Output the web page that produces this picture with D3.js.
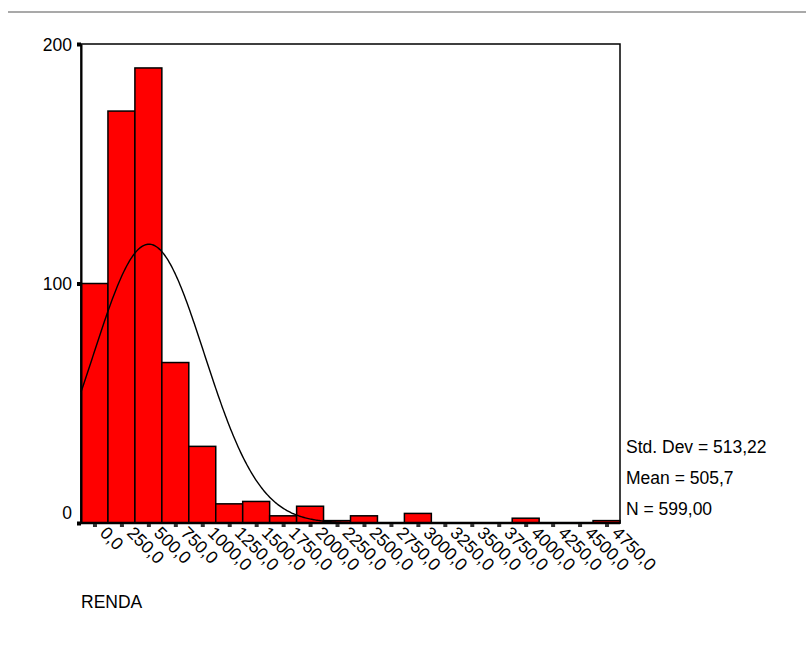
<!DOCTYPE html>
<html>
<head>
<meta charset="utf-8">
<script src="https://cdn.jsdelivr.net/npm/d3@7"></script>
<style>
  body { margin: 0; background: #fff; }
  text { font-family: "Liberation Sans", Arial, sans-serif; fill: #000; }
</style>
</head>
<body>
<div id="chart"></div>
<script>
// histogram of RENDA, bins of 250 labelled by midpoint
const binMids = [0, 250, 500, 750, 1000, 1250, 1500, 1750, 2000, 2250,
                 2500, 2750, 3000, 3250, 3500, 3750, 4000, 4250, 4500, 4750];
const counts = [100, 172, 190, 67, 32, 8, 9, 3, 7, 1,
                3, 0, 4, 0, 0, 0, 2, 0, 0, 1];
const yTicks = [0, 100, 200];
const statLines = ["Std. Dev = 513,22", "Mean = 505,7", "N = 599,00"];
const stdDev = 513.22, mean = 505.7, nTotal = 599, binWidth = 250;

const width = 806, height = 652;
const margin = {left: 81, right: 186, top: 44, bottom: 129};
const fontSize = "17.5px";

const svg = d3.select("#chart").append("svg")
  .attr("width", width)
  .attr("height", height);

// gray rule at the top of the page
svg.append("line")
  .attr("x1", 8).attr("x2", width).attr("y1", 12).attr("y2", 12)
  .attr("stroke", "#8c8c8c").attr("stroke-width", 1.5);

const x = d3.scaleLinear()
  .domain([binMids[0] - binWidth / 2, binMids[binMids.length - 1] + binWidth / 2])
  .range([margin.left, width - margin.right]);

const y = d3.scaleLinear()
  .domain([0, 200])
  .range([height - margin.bottom, margin.top]);

// frame
svg.append("rect")
  .attr("x", x.range()[0]).attr("y", y(200))
  .attr("width", x.range()[1] - x.range()[0])
  .attr("height", y(0) - y(200))
  .attr("fill", "none").attr("stroke", "#000").attr("stroke-width", 1.5);

// bars
svg.selectAll(".bar")
  .data(binMids)
  .enter()
  .append("rect")
    .attr("class", "bar")
    .attr("x", d => x(d - binWidth / 2))
    .attr("y", (d, i) => y(counts[i]))
    .attr("width", d => x(d + binWidth / 2) - x(d - binWidth / 2))
    .attr("height", (d, i) => y(0) - y(counts[i]))
    .attr("fill", "#ff0000")
    .attr("stroke", "#000")
    .attr("stroke-width", 1.5)
    .style("display", (d, i) => counts[i] > 0 ? null : "none");

// fitted normal curve from the reported mean / sd / N
const curvePts = d3.range(x.domain()[0], x.domain()[1] + 1, 10).map(v => {
  const z = (v - mean) / stdDev;
  return [v, nTotal * binWidth / (stdDev * Math.sqrt(2 * Math.PI)) * Math.exp(-0.5 * z * z)];
});
svg.append("path")
  .datum(curvePts)
  .attr("fill", "none")
  .attr("stroke", "#000")
  .attr("stroke-width", 1.4)
  .attr("d", d3.line().x(d => x(d[0])).y(d => y(d[1])));

// bottom axis line (a bit heavier)
svg.append("line")
  .attr("x1", x.range()[0]).attr("x2", x.range()[1])
  .attr("y1", y(0)).attr("y2", y(0))
  .attr("stroke", "#000").attr("stroke-width", 2.5);

// y axis
const yAxis = svg.append("g")
  .attr("transform", `translate(${margin.left},0)`)
  .call(d3.axisLeft(y).tickValues(yTicks).tickSize(0).tickPadding(9));
yAxis.select(".domain").attr("stroke-width", 2);
yAxis.selectAll("text")
  .attr("font-size", fontSize)
  .attr("font-family", "Liberation Sans, Arial, sans-serif")
  .attr("dy", d => d === 0 ? "-0.25em" : "0.35em");
yAxis.selectAll(".tick").append("rect")
  .attr("x", -4).attr("y", -2).attr("width", 4).attr("height", 4)
  .attr("fill", "#000");

// x ticks and rotated labels
const xAxis = svg.append("g")
  .attr("transform", `translate(0,${y(0)})`)
  .call(d3.axisBottom(x).tickValues(binMids).tickSize(0).tickFormat(d => d + ",0"));
xAxis.select(".domain").remove();
xAxis.selectAll(".tick").append("rect")
  .attr("x", -2).attr("y", 1).attr("width", 4).attr("height", 3)
  .attr("fill", "#333");
xAxis.selectAll("text")
  .attr("font-size", fontSize)
  .attr("font-family", "Liberation Sans, Arial, sans-serif")
  .attr("text-anchor", "start")
  .attr("x", 0).attr("y", 0).attr("dy", "0")
  .attr("transform", "translate(4,11) rotate(45)");

// stats box text
svg.selectAll(".stat")
  .data(statLines)
  .enter()
  .append("text")
    .attr("class", "stat")
    .attr("x", 626)
    .attr("y", (d, i) => 453 + i * 31)
    .attr("font-size", fontSize)
    .text(d => d);

// variable name
svg.append("text")
  .attr("x", 81).attr("y", 608)
  .attr("font-size", fontSize)
  .text("RENDA");
</script>
</body>
</html>
